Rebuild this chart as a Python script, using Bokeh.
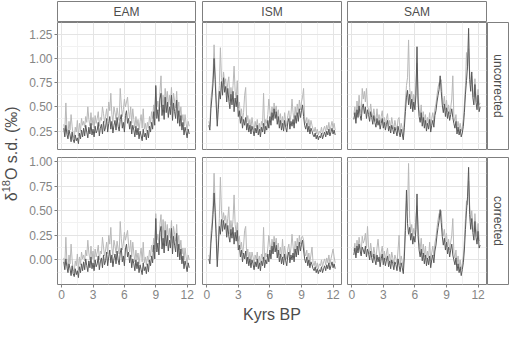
import math
from bokeh.plotting import figure
from bokeh.layouts import row, column, Spacer
from bokeh.models import Range1d, FixedTicker, PrintfTickFormatter
from bokeh.embed import file_html
from bokeh.resources import INLINE
from bokeh.core.properties import value

# ---------------- data ----------------
years = [round(0.2 + 0.1 * i, 1) for i in range(121)]   # kyr BP sample ages
monsoons = ["EAM", "ISM", "SAM"]
versions = ["uncorrected", "corrected"]
x_ticks = [0, 3, 6, 9, 12]
x_minor = [1.5, 4.5, 7.5, 10.5]
y_ticks_unc = [0.25, 0.50, 0.75, 1.00, 1.25]
y_minor_unc = [0.125, 0.375, 0.625, 0.875, 1.125]
y_ticks_cor = [0.00, 0.25, 0.50, 0.75, 1.00]
y_minor_cor = [-0.125, 0.125, 0.375, 0.625, 0.875]

eam_unc_dark = [0.28, 0.19, 0.31, 0.22, 0.17, 0.26, 0.21, 0.14, 0.24, 0.16,
                0.13, 0.21, 0.15, 0.18, 0.12, 0.23, 0.17, 0.26, 0.19, 0.28,
                0.20, 0.31, 0.24, 0.18, 0.29, 0.22, 0.33, 0.21, 0.27, 0.19,
                0.30, 0.23, 0.26, 0.34, 0.20, 0.28, 0.32, 0.22, 0.35, 0.25,
                0.29, 0.38, 0.24, 0.33, 0.40, 0.27, 0.35, 0.23, 0.31, 0.36,
                0.26, 0.39, 0.30, 0.25, 0.37, 0.42, 0.28, 0.34, 0.24, 0.41,
                0.46, 0.33, 0.38, 0.27, 0.35, 0.22, 0.31, 0.26, 0.19, 0.30,
                0.21, 0.28, 0.17, 0.25, 0.20, 0.15, 0.27, 0.19, 0.23, 0.16,
                0.26, 0.18, 0.30, 0.24, 0.34, 0.27, 0.45, 0.31, 0.72, 0.38,
                0.47, 0.35, 0.58, 0.64, 0.41, 0.52, 0.37, 0.60, 0.44, 0.55,
                0.39, 0.50, 0.42, 0.62, 0.36, 0.54, 0.45, 0.38, 0.57, 0.33,
                0.46, 0.30, 0.41, 0.26, 0.34, 0.21, 0.29, 0.24, 0.18, 0.27, 0.22]
eam_unc_light = [0.32, 0.25, 0.54, 0.28, 0.22, 0.35, 0.26, 0.42, 0.30, 0.20,
                 0.18, 0.29, 0.24, 0.36, 0.20, 0.33, 0.25, 0.38, 0.31, 0.35,
                 0.29, 0.40, 0.34, 0.50, 0.37, 0.30, 0.44, 0.31, 0.39, 0.28,
                 0.41, 0.33, 0.38, 0.45, 0.30, 0.39, 0.36, 0.50, 0.43, 0.34,
                 0.40, 0.48, 0.36, 0.55, 0.46, 0.64, 0.42, 0.35, 0.50, 0.44,
                 0.37, 0.49, 0.41, 0.36, 0.69, 0.52, 0.40, 0.47, 0.58, 0.50,
                 0.55, 0.60, 0.45, 0.38, 0.50, 0.33, 0.48, 0.37, 0.28, 0.40,
                 0.30, 0.37, 0.26, 0.35, 0.42, 0.28, 0.48, 0.27, 0.33, 0.25,
                 0.34, 0.28, 0.40, 0.33, 0.45, 0.38, 0.52, 0.41, 0.70, 0.50,
                 0.56, 0.46, 0.66, 0.82, 0.50, 0.62, 0.48, 0.69, 0.55, 0.66,
                 0.50, 0.62, 0.52, 0.70, 0.47, 0.64, 0.56, 0.49, 0.66, 0.44,
                 0.55, 0.40, 0.50, 0.36, 0.42, 0.30, 0.42, 0.33, 0.26, 0.35, 0.30]
eam_cor_dark = [-0.02, -0.10, 0.01, -0.07, -0.13, -0.04, -0.09, -0.16, -0.06, -0.14,
                -0.17, -0.09, -0.15, -0.11, -0.18, -0.07, -0.13, -0.04, -0.11, -0.02,
                -0.10, 0.01, -0.06, -0.12, -0.01, -0.08, 0.03, -0.09, -0.03, -0.11,
                0.00, -0.07, -0.04, 0.04, -0.10, -0.02, 0.02, -0.08, 0.05, -0.05,
                -0.01, 0.08, -0.06, 0.03, 0.10, -0.03, 0.05, -0.07, 0.01, 0.06,
                -0.04, 0.09, 0.00, -0.05, 0.07, 0.12, -0.02, 0.04, -0.06, 0.11,
                0.16, 0.03, 0.08, -0.03, 0.05, -0.08, 0.01, -0.04, -0.11, 0.00,
                -0.09, -0.02, -0.13, -0.05, -0.10, -0.15, -0.03, -0.11, -0.07, -0.14,
                -0.04, -0.12, 0.00, -0.06, 0.04, -0.03, 0.15, 0.01, 0.42, 0.08,
                0.17, 0.05, 0.28, 0.34, 0.11, 0.22, 0.07, 0.30, 0.14, 0.25,
                0.09, 0.20, 0.12, 0.32, 0.06, 0.24, 0.15, 0.08, 0.27, 0.03,
                0.16, 0.00, 0.11, -0.04, 0.04, -0.09, -0.01, -0.06, -0.12, -0.03, -0.08]
eam_cor_light = [0.02, -0.05, 0.23, -0.02, -0.08, 0.05, -0.04, 0.16, 0.00, -0.10,
                 -0.12, -0.01, -0.06, 0.06, -0.10, 0.03, -0.05, 0.08, 0.01, 0.05,
                 -0.01, 0.10, 0.04, 0.20, 0.07, 0.00, 0.14, 0.01, 0.09, -0.02,
                 0.11, 0.03, 0.08, 0.15, 0.00, 0.09, 0.06, 0.23, 0.13, 0.04,
                 0.10, 0.18, 0.06, 0.25, 0.16, 0.33, 0.12, 0.05, 0.20, 0.14,
                 0.07, 0.19, 0.11, 0.06, 0.39, 0.22, 0.10, 0.17, 0.28, 0.20,
                 0.25, 0.30, 0.15, 0.08, 0.20, 0.03, 0.18, 0.07, -0.02, 0.10,
                 0.00, 0.07, -0.04, 0.05, 0.12, -0.02, 0.18, -0.03, 0.03, -0.05,
                 0.04, -0.02, 0.10, 0.03, 0.15, 0.08, 0.22, 0.11, 0.47, 0.20,
                 0.26, 0.16, 0.36, 0.46, 0.20, 0.41, 0.18, 0.39, 0.25, 0.36,
                 0.20, 0.32, 0.22, 0.40, 0.17, 0.34, 0.26, 0.19, 0.36, 0.14,
                 0.25, 0.10, 0.20, 0.06, 0.12, 0.00, 0.12, 0.03, -0.04, 0.05, 0.00]

ism_unc_dark = [0.31, 0.26, 0.48, 0.60, 0.74, 1.00, 0.78, 0.52, 0.30, 0.47,
                0.66, 0.58, 0.76, 0.62, 0.80, 0.65, 0.71, 0.55, 0.69, 0.57,
                0.48, 0.63, 0.52, 0.66, 0.45, 0.59, 0.50, 0.62, 0.40, 0.46,
                0.33, 0.40, 0.28, 0.37, 0.31, 0.39, 0.26, 0.33, 0.24, 0.31,
                0.22, 0.30, 0.26, 0.20, 0.28, 0.23, 0.31, 0.21, 0.27, 0.19,
                0.29, 0.24, 0.33, 0.22, 0.30, 0.26, 0.36, 0.28, 0.40, 0.31,
                0.44, 0.36, 0.48, 0.38, 0.45, 0.32, 0.40, 0.28, 0.36, 0.26,
                0.33, 0.25, 0.36, 0.29, 0.24, 0.34, 0.38, 0.27, 0.35, 0.30,
                0.37, 0.28, 0.41, 0.33, 0.44, 0.35, 0.48, 0.39, 0.46, 0.52,
                0.40, 0.31, 0.27, 0.33, 0.24, 0.30, 0.22, 0.28, 0.25, 0.21,
                0.19, 0.23, 0.17, 0.21, 0.16, 0.20, 0.18, 0.23, 0.17, 0.21,
                0.24, 0.19, 0.25, 0.21, 0.27, 0.20, 0.24, 0.28, 0.22, 0.26, 0.21]
ism_unc_light = [0.35, 0.30, 0.58, 0.68, 0.82, 1.14, 0.88, 0.60, 0.38, 0.55,
                 0.72, 1.11, 0.80, 0.70, 0.86, 0.74, 0.79, 0.63, 0.75, 0.81,
                 0.56, 0.70, 0.60, 0.72, 0.92, 0.66, 0.58, 0.77, 0.49, 0.55,
                 0.40, 0.48, 0.36, 0.44, 0.62, 0.70, 0.34, 0.41, 0.30, 0.37,
                 0.28, 0.39, 0.31, 0.26, 0.35, 0.29, 0.37, 0.27, 0.33, 0.25,
                 0.35, 0.31, 0.64, 0.28, 0.37, 0.33, 0.42, 0.58, 0.46, 0.38,
                 0.50, 0.42, 0.54, 0.44, 0.51, 0.39, 0.47, 0.34, 0.43, 0.32,
                 0.40, 0.31, 0.44, 0.36, 0.30, 0.41, 0.46, 0.33, 0.42, 0.58,
                 0.44, 0.35, 0.50, 0.40, 0.53, 0.43, 0.57, 0.47, 0.55, 0.60,
                 0.69, 0.38, 0.33, 0.39, 0.30, 0.37, 0.28, 0.36, 0.31, 0.27,
                 0.24, 0.29, 0.22, 0.27, 0.21, 0.25, 0.23, 0.29, 0.22, 0.27,
                 0.30, 0.24, 0.31, 0.26, 0.34, 0.25, 0.30, 0.35, 0.28, 0.33, 0.26]
ism_cor_dark = [0.01, -0.04, 0.17, 0.30, 0.46, 0.68, 0.48, 0.22, -0.07, 0.12,
                0.34, 0.26, 0.41, 0.29, 0.40, 0.31, 0.37, 0.23, 0.35, 0.24,
                0.18, 0.31, 0.22, 0.33, 0.16, 0.28, 0.19, 0.30, 0.10, 0.15,
                0.03, 0.10, -0.02, 0.07, 0.01, 0.09, -0.04, 0.03, -0.06, 0.01,
                -0.08, 0.00, -0.04, -0.10, -0.02, -0.07, 0.01, -0.09, -0.03, -0.11,
                -0.01, -0.06, 0.03, -0.08, 0.00, -0.04, 0.06, -0.02, 0.10, 0.01,
                0.14, 0.06, 0.18, 0.08, 0.15, 0.02, 0.10, -0.02, 0.06, -0.04,
                0.03, -0.05, 0.06, -0.01, -0.06, 0.04, 0.08, -0.03, 0.05, 0.00,
                0.07, -0.02, 0.11, 0.03, 0.14, 0.05, 0.18, 0.09, 0.16, 0.20,
                0.10, 0.01, -0.03, 0.03, -0.06, 0.00, -0.08, -0.02, -0.05, -0.09,
                -0.11, -0.07, -0.13, -0.09, -0.14, -0.10, -0.12, -0.07, -0.13, -0.09,
                -0.06, -0.11, -0.05, -0.09, -0.03, -0.10, -0.06, -0.02, -0.08, -0.04, -0.09]
ism_cor_light = [0.05, 0.00, 0.27, 0.38, 0.55, 0.88, 0.58, 0.32, 0.01, 0.20,
                 0.42, 0.84, 0.50, 0.38, 0.48, 0.40, 0.45, 0.32, 0.42, 0.54,
                 0.26, 0.40, 0.30, 0.41, 0.66, 0.36, 0.27, 0.38, 0.19, 0.24,
                 0.11, 0.18, 0.06, 0.14, 0.30, 0.34, 0.04, 0.11, 0.00, 0.08,
                 -0.02, 0.08, 0.03, -0.04, 0.05, 0.00, 0.08, -0.03, 0.04, -0.05,
                 0.06, 0.01, 0.33, -0.01, 0.07, 0.03, 0.12, 0.25, 0.16, 0.08,
                 0.21, 0.13, 0.24, 0.15, 0.22, 0.09, 0.17, 0.05, 0.13, 0.03,
                 0.21, 0.02, 0.14, 0.06, 0.01, 0.11, 0.16, 0.04, 0.12, 0.26,
                 0.14, 0.05, 0.19, 0.10, 0.22, 0.12, 0.25, 0.16, 0.23, 0.24,
                 0.20, 0.08, 0.04, 0.10, 0.00, 0.07, -0.02, 0.05, 0.13, -0.03,
                 -0.06, -0.01, -0.08, -0.03, -0.09, -0.04, -0.06, 0.00, -0.07, -0.02,
                 0.01, -0.05, 0.02, -0.03, 0.05, -0.04, 0.01, 0.06, 0.11, 0.03, -0.03]

sam_unc_dark = [0.37, 0.44, 0.33, 0.47, 0.39, 0.51, 0.41, 0.36, 0.49, 0.53,
                0.43, 0.50, 0.38, 0.47, 0.42, 0.35, 0.45, 0.39, 0.32, 0.41,
                0.34, 0.29, 0.38, 0.31, 0.36, 0.27, 0.33, 0.38, 0.28, 0.34,
                0.26, 0.32, 0.36, 0.25, 0.30, 0.23, 0.31, 0.27, 0.22, 0.29,
                0.25, 0.20, 0.30, 0.24, 0.19, 0.27, 0.22, 0.16, 0.29, 0.45,
                0.60, 0.67, 0.52, 0.63, 0.48, 0.58, 0.45, 0.55, 0.47, 0.62,
                1.12, 0.55, 0.40, 0.34, 0.44, 0.30, 0.39, 0.28, 0.36, 0.25,
                0.33, 0.27, 0.37, 0.24, 0.31, 0.36, 0.29, 0.41, 0.46, 0.55,
                0.62, 0.68, 0.82, 0.66, 0.52, 0.44, 0.53, 0.40, 0.49, 0.38,
                0.45, 0.36, 0.42, 0.48, 0.39, 0.33, 0.28, 0.35, 0.22, 0.29,
                0.21, 0.27, 0.19, 0.23, 0.30, 0.44, 0.63, 0.77, 0.92, 1.31,
                0.78, 0.66, 0.86, 0.60, 0.52, 0.73, 0.55, 0.47, 0.62, 0.45, 0.50]
sam_unc_light = [0.42, 0.50, 0.38, 0.56, 0.45, 0.62, 0.48, 0.44, 0.69, 0.58,
                 0.66, 0.55, 0.69, 0.50, 0.48, 0.42, 0.53, 0.44, 0.38, 0.48,
                 0.40, 0.35, 0.48, 0.36, 0.42, 0.33, 0.40, 0.46, 0.32, 0.39,
                 0.31, 0.38, 0.43, 0.30, 0.36, 0.28, 0.39, 0.32, 0.27, 0.36,
                 0.30, 0.26, 0.37, 0.39, 0.24, 0.33, 0.28, 0.21, 0.38, 0.55,
                 0.72, 0.80, 1.19, 0.70, 0.58, 0.66, 0.52, 0.63, 0.55, 0.72,
                 0.95, 0.62, 0.47, 0.41, 0.52, 0.36, 0.45, 0.34, 0.42, 0.31,
                 0.39, 0.33, 0.44, 0.30, 0.38, 0.44, 0.35, 0.48, 0.53, 0.62,
                 0.70, 0.75, 0.74, 0.78, 0.60, 0.52, 0.61, 0.47, 0.57, 0.45,
                 0.52, 0.43, 0.49, 0.58, 0.82, 0.40, 0.35, 0.42, 0.28, 0.35,
                 0.27, 0.33, 0.25, 0.29, 0.37, 0.52, 0.72, 1.06, 0.88, 1.10,
                 0.86, 0.74, 0.82, 0.68, 0.60, 0.79, 0.62, 0.55, 0.68, 0.52, 0.54]
sam_cor_dark = [0.05, 0.12, 0.02, 0.14, 0.07, 0.16, 0.09, 0.04, 0.13, 0.10,
                0.06, 0.14, 0.03, 0.11, 0.07, 0.00, 0.09, 0.02, -0.03, 0.06,
                0.00, -0.05, 0.05, -0.02, 0.03, -0.07, 0.01, 0.06, -0.05, 0.02,
                -0.06, 0.00, 0.04, -0.07, -0.01, -0.09, 0.00, -0.04, -0.10, -0.02,
                -0.05, -0.11, 0.01, -0.06, -0.12, -0.03, -0.08, -0.14, 0.03, 0.30,
                0.71, 0.37, 0.26, 0.33, 0.20, 0.27, 0.16, 0.24, 0.18, 0.31,
                0.67, 0.25, 0.10, 0.03, 0.11, -0.01, 0.07, -0.04, 0.05, -0.06,
                0.02, -0.05, 0.04, -0.08, 0.00, 0.05, -0.03, 0.09, 0.15, 0.25,
                0.33, 0.40, 0.51, 0.38, 0.24, 0.15, 0.22, 0.10, 0.18, 0.06,
                0.13, 0.03, 0.10, 0.16, 0.05, 0.00, -0.05, 0.02, -0.11, -0.04,
                -0.13, -0.07, -0.16, -0.10, -0.03, 0.10, 0.31, 0.50, 0.64, 0.94,
                0.46, 0.31, 0.42, 0.28, 0.20, 0.39, 0.23, 0.16, 0.29, 0.12, 0.15]
sam_cor_light = [0.09, 0.17, 0.05, 0.20, 0.11, 0.23, 0.14, 0.08, 0.24, 0.17,
                 0.20, 0.27, 0.12, 0.34, 0.13, 0.06, 0.17, 0.08, 0.03, 0.13,
                 0.06, 0.01, 0.12, 0.21, 0.09, -0.01, 0.08, 0.14, 0.00, 0.09,
                 0.00, 0.07, 0.12, -0.01, 0.06, -0.03, 0.08, 0.02, -0.04, 0.05,
                 0.01, -0.04, 0.10, 0.25, -0.05, 0.04, -0.02, -0.08, 0.12, 0.40,
                 0.60, 0.50, 0.98, 0.42, 0.28, 0.36, 0.24, 0.32, 0.26, 0.45,
                 0.55, 0.36, 0.18, 0.11, 0.22, 0.06, 0.16, 0.03, 0.14, 0.01,
                 0.09, 0.02, 0.18, -0.01, 0.07, 0.14, 0.04, 0.17, 0.23, 0.33,
                 0.41, 0.47, 0.45, 0.50, 0.33, 0.24, 0.31, 0.18, 0.27, 0.13,
                 0.21, 0.10, 0.18, 0.25, 0.42, 0.08, 0.02, 0.10, -0.05, 0.04,
                 -0.07, 0.00, -0.10, -0.04, 0.04, 0.20, 0.42, 0.60, 0.56, 0.80,
                 0.56, 0.40, 0.50, 0.36, 0.28, 0.47, 0.32, 0.24, 0.37, 0.20, 0.19]

series = {
    ("EAM", "uncorrected"): (eam_unc_dark, eam_unc_light),
    ("ISM", "uncorrected"): (ism_unc_dark, ism_unc_light),
    ("SAM", "uncorrected"): (sam_unc_dark, sam_unc_light),
    ("EAM", "corrected"): (eam_cor_dark, eam_cor_light),
    ("ISM", "corrected"): (ism_cor_dark, ism_cor_light),
    ("SAM", "corrected"): (sam_cor_dark, sam_cor_light),
}

# ---------------- style ----------------
FONT = "Liberation Sans"
BORDER = "#7f7f7f"
TEXT = "#4d4d4d"
TICKTXT = "#858585"
DARK = "#595959"
LIGHT = "#b8b8b8"
FRAME_H = 127
FRAME_W = [138, 139, 139]
BORD_L = [35, 4, 3]
BORD_R = [3, 3, 1]
XR = (-0.4, 12.8)
YR = {"uncorrected": (0.06, 1.37), "corrected": (-0.25, 1.04)}
YT = {"uncorrected": (y_ticks_unc, y_minor_unc), "corrected": (y_ticks_cor, y_minor_cor)}


def base_fig(**kw):
    f = figure(output_backend="svg", toolbar_location=None, tools="", title=None, **kw)
    f.background_fill_color = "white"
    f.border_fill_color = "white"
    return f


def panel(col, r):
    m = monsoons[col]
    ver = versions[r]
    show_x = (r == 1)
    show_y = (col == 0)
    f = base_fig(frame_width=FRAME_W[col], frame_height=FRAME_H,
                 x_range=Range1d(*XR), y_range=Range1d(*YR[ver]),
                 x_axis_location="below" if show_x else None,
                 y_axis_location="left" if show_y else None,
                 min_border_left=BORD_L[col], min_border_right=BORD_R[col],
                 min_border_top=0 if r == 0 else 1,
                 min_border_bottom=7 if r == 0 else 21)
    f.outline_line_color = BORDER
    f.outline_line_width = 1
    ticks, minor = YT[ver]
    f.xgrid.ticker = FixedTicker(ticks=x_ticks, minor_ticks=x_minor)
    f.ygrid.ticker = FixedTicker(ticks=ticks, minor_ticks=minor)
    f.grid.grid_line_color = "#e4e4e4"
    f.grid.minor_grid_line_color = "#f2f2f2"
    f.grid.grid_line_width = 1
    for ax in f.axis:
        ax.axis_line_color = None
        ax.major_tick_line_color = BORDER
        ax.major_tick_in = 0
        ax.major_tick_out = 3
        ax.minor_tick_line_color = None
        ax.major_label_text_color = TICKTXT
        ax.major_label_text_font = FONT
        ax.major_label_text_font_size = "12px"
        ax.major_label_standoff = 2
    if show_x:
        f.xaxis.ticker = FixedTicker(ticks=x_ticks)
    if show_y:
        f.yaxis.ticker = FixedTicker(ticks=ticks)
        f.yaxis.formatter = PrintfTickFormatter(format="%.2f")
    dark, light = series[(m, ver)]
    f.line(years, light, line_color=LIGHT, line_width=1)
    f.line(years, dark, line_color=DARK, line_width=1)
    return f


def strip_top(col):
    f = base_fig(frame_width=FRAME_W[col], frame_height=21,
                 x_range=Range1d(0, 1), y_range=Range1d(0, 1),
                 x_axis_location=None, y_axis_location=None,
                 min_border_left=BORD_L[col], min_border_right=BORD_R[col],
                 min_border_top=1, min_border_bottom=0)
    f.grid.visible = False
    f.outline_line_color = BORDER
    f.text(x=[0.5], y=[0.5], text=[monsoons[col]], text_align="center",
           text_baseline="middle", text_font=value(FONT), text_font_size="12px",
           text_color=TEXT)
    return f


def strip_right(r):
    f = base_fig(frame_width=21, frame_height=FRAME_H,
                 x_range=Range1d(0, 1), y_range=Range1d(0, 1),
                 x_axis_location=None, y_axis_location=None,
                 min_border_left=0, min_border_right=1,
                 min_border_top=0 if r == 0 else 1,
                 min_border_bottom=7 if r == 0 else 21)
    f.grid.visible = False
    f.outline_line_color = BORDER
    f.text(x=[0.5], y=[0.5], text=[versions[r]], angle=-math.pi / 2,
           text_align="center", text_baseline="middle", text_font=value(FONT),
           text_font_size="12px", text_color=TEXT)
    return f


def text_fig(w, h):
    f = base_fig(width=w, height=h, x_range=Range1d(0, w), y_range=Range1d(0, h),
                 x_axis_location=None, y_axis_location=None, min_border=0)
    f.grid.visible = False
    f.outline_line_color = None
    return f


top_row = row(strip_top(0), strip_top(1), strip_top(2), Spacer(width=22, height=22))
row1 = row(panel(0, 0), panel(1, 0), panel(2, 0), strip_right(0))
row2 = row(panel(0, 1), panel(1, 1), panel(2, 1), strip_right(1))

COL_W = (BORD_L[0] + FRAME_W[0] + BORD_R[0]) + (BORD_L[1] + FRAME_W[1] + BORD_R[1]) + \
        (BORD_L[2] + FRAME_W[2] + BORD_R[2]) + 22
xt = text_fig(COL_W, 18)
x_center = BORD_L[0] + FRAME_W[0] + BORD_R[0] + BORD_L[1] + FRAME_W[1] / 2
xt.text(x=[x_center], y=[9], text=["Kyrs BP"], text_align="center", text_baseline="middle",
        text_font=value(FONT), text_font_size="16px", text_color=TEXT)

YL_W = 22
TOTAL_H = 22 + 134 + 149 + 18
yt = text_fig(YL_W, TOTAL_H)
mid = TOTAL_H - 153
base_x = 11
start = mid - 47.7
yt.text(x=[base_x], y=[start], text=["δ"], angle=math.pi / 2, text_align="left",
        text_baseline="middle", text_font=value(FONT), text_font_size="16px", text_color=TEXT)
yt.text(x=[base_x - 6], y=[start + 8.9], text=["18"], angle=math.pi / 2, text_align="left",
        text_baseline="middle", text_font=value(FONT), text_font_size="11px", text_color=TEXT)
yt.text(x=[base_x], y=[start + 21.1], text=["O s.d. (‰)"], angle=math.pi / 2, text_align="left",
        text_baseline="middle", text_font=value(FONT), text_font_size="16px", text_color=TEXT)

layout = row(yt, column(top_row, row1, row2, xt))

open("out.html", "w").write(file_html(layout, INLINE))
